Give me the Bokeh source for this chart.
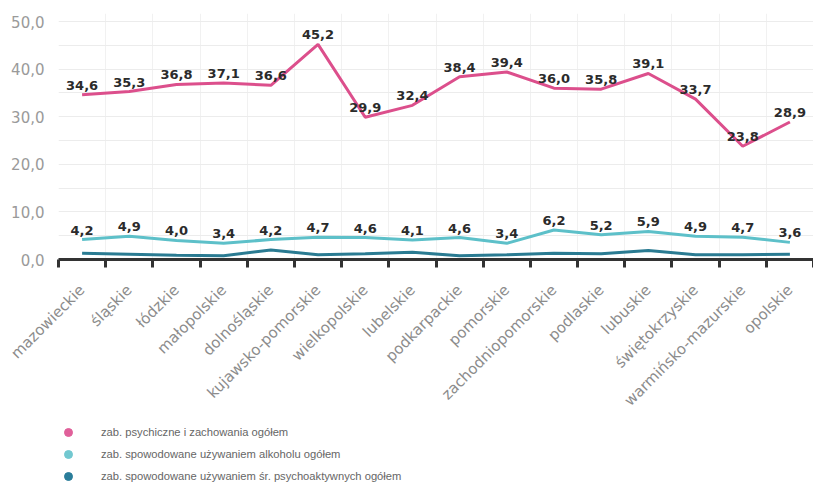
import math
import numpy as np
from bokeh.plotting import figure
from bokeh.layouts import column
from bokeh.core.properties import value
from bokeh.models import (ColumnDataSource, Range1d, FixedTicker, LabelSet,
                          Legend, LegendItem)
from bokeh.embed import file_html
from bokeh.resources import INLINE

regions = ["mazowieckie", "śląskie", "łódzkie", "małopolskie", "dolnośląskie",
           "kujawsko-pomorskie", "wielkopolskie", "lubelskie", "podkarpackie",
           "pomorskie", "zachodniopomorskie", "podlaskie", "lubuskie",
           "świętokrzyskie", "warmińsko-mazurskie", "opolskie"]
psych = [34.6, 35.3, 36.8, 37.1, 36.6, 45.2, 29.9, 32.4, 38.4, 39.4, 36.0,
         35.8, 39.1, 33.7, 23.8, 28.9]
alcohol = [4.2, 4.9, 4.0, 3.4, 4.2, 4.7, 4.6, 4.1, 4.6, 3.4, 6.2, 5.2, 5.9,
           4.9, 4.7, 3.6]
drugs = [1.3, 1.1, 0.9, 0.8, 2.0, 1.0, 1.2, 1.5, 0.8, 1.0, 1.3, 1.2, 1.9,
         1.0, 1.0, 1.1]
series_names = ["zab. psychiczne i zachowania ogółem",
                "zab. spowodowane używaniem alkoholu ogółem",
                "zab. spowodowane używaniem śr. psychoaktywnych ogółem"]
y_ticks = [0, 10, 20, 30, 40, 50]
y_minor = [5, 15, 25, 35, 45]

PINK = "#dc4f8c"
TEAL = "#5dc0c9"
DARK = "#2a7b92"


def fmt(v):
    return f"{v:.1f}".replace(".", ",")


x = list(range(len(regions)))
src = ColumnDataSource(dict(
    x=x, psych=psych, alcohol=alcohol, drugs=drugs,
    psych_lbl=[fmt(v) for v in psych],
    alcohol_lbl=[fmt(v) for v in alcohol],
))

p = figure(width=813, height=421, output_backend="svg", toolbar_location=None,
           x_range=Range1d(-0.5, len(regions) - 0.5), y_range=Range1d(0, 51.7),
           min_border_left=58, min_border_right=0, min_border_top=13,
           min_border_bottom=162)
p.outline_line_color = None

# grids
xt = FixedTicker(ticks=x, minor_ticks=[i - 0.5 for i in range(len(regions) + 1)])
p.xgrid.ticker = xt
p.xgrid.grid_line_color = None
p.xgrid.minor_grid_line_color = "#f1f1f1"
yt = FixedTicker(ticks=y_ticks, minor_ticks=y_minor)
p.ygrid.ticker = yt
p.ygrid.grid_line_color = "#ececec"
p.ygrid.minor_grid_line_color = "#ececec"

# x axis
xa = p.xaxis[0]
xa.ticker = xt
xa.major_label_overrides = {i: r for i, r in zip(x, regions)}
xa.major_label_orientation = math.pi / 4
xa.major_label_text_font = "DejaVu Sans"
xa.major_label_text_font_size = "15px"
xa.major_label_text_color = "#8c8c8c"
xa.major_label_standoff = 20
xa.major_tick_line_color = None
xa.major_tick_out = 8
xa.major_tick_in = 0
xa.minor_tick_line_color = "#333333"
xa.minor_tick_line_width = 3
xa.minor_tick_out = 8
xa.minor_tick_in = 0
xa.axis_line_color = "#333333"
xa.axis_line_width = 3

# y axis
ya = p.yaxis[0]
ya.ticker = yt
ya.major_label_overrides = {t: fmt(t) for t in y_ticks}
ya.major_label_text_font = "DejaVu Sans"
ya.major_label_text_font_size = "15px"
ya.major_label_text_color = "#9a9a9a"
ya.major_label_standoff = 8
ya.axis_line_color = None
ya.major_tick_line_color = None
ya.minor_tick_line_color = None

# lines
p.line("x", "drugs", source=src, line_color=DARK, line_width=3)
p.line("x", "alcohol", source=src, line_color=TEAL, line_width=3)
p.line("x", "psych", source=src, line_color=PINK, line_width=3)

for col in ["psych", "alcohol"]:
    p.add_layout(LabelSet(x="x", y=col, text=col + "_lbl", source=src,
                          text_align="center", text_baseline="bottom",
                          y_offset=5, text_font=value("DejaVu Sans"),
                          text_font_style="bold", text_font_size="13px",
                          text_color="#2b2b2b"))

# legend in a separate strip below the chart
lf = figure(width=813, height=63, output_backend="svg", toolbar_location=None,
            x_range=Range1d(0, 1), y_range=Range1d(0, 1),
            x_axis_location=None, y_axis_location=None,
            min_border_left=57, min_border_right=0, min_border_top=0,
            min_border_bottom=0)
lf.outline_line_color = None
lf.grid.visible = False
leg_src = ColumnDataSource(dict(x=[0.5], y=[np.nan]))
items = []
for name, col in zip(series_names, ["#e0609a", "#72c8d0", "#2a7d9a"]):
    r = lf.scatter("x", "y", source=leg_src, marker="circle", size=10,
                   fill_color=col, line_color=col)
    items.append(LegendItem(label=name, renderers=[r]))

legend = Legend(items=items, location="top_left", orientation="vertical",
                border_line_color=None, background_fill_alpha=0,
                padding=0, margin=0, spacing=0,
                glyph_width=20, glyph_height=22, label_height=22,
                label_standoff=23, label_text_font="Liberation Sans",
                label_text_font_size="11.2px", label_text_color="#666666",
                label_text_baseline="middle")
lf.add_layout(legend)

layout = column(p, lf, spacing=0)
open("out.html", "w").write(file_html(layout, INLINE))
